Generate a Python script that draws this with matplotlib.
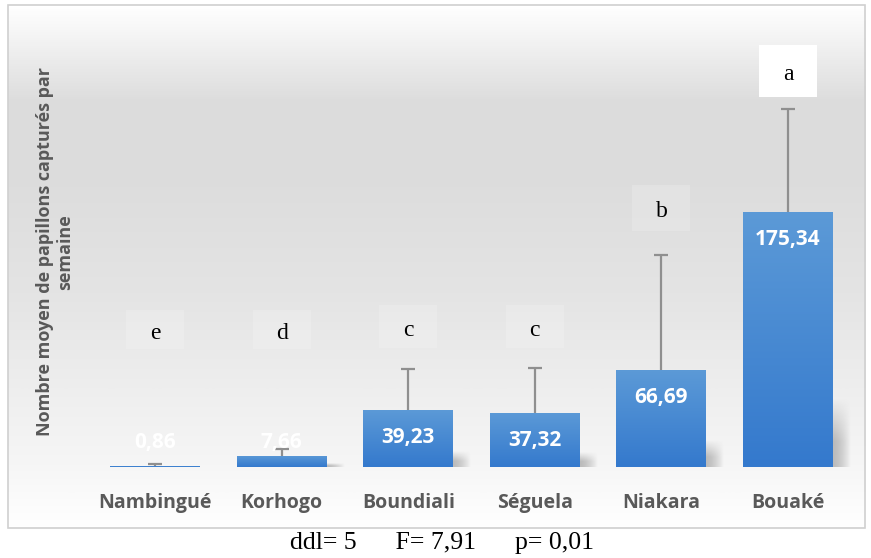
import numpy as np
import matplotlib
matplotlib.use("Agg")
import matplotlib.pyplot as plt
from matplotlib.patches import Rectangle
from matplotlib.colors import LinearSegmentedColormap

# Mean weekly moth captures per locality, with standard deviation and group letters
localities = ["Nambingué", "Korhogo", "Boundiali", "Séguela", "Niakara", "Bouaké"]
means = [0.86, 7.66, 39.23, 37.32, 66.69, 175.34]
errors = [1.0, 4.7, 28.2, 30.7, 79.0, 70.7]
groups = ["e", "d", "c", "c", "b", "a"]
value_labels = ["0,86", "7,66", "39,23", "37,32", "66,69", "175,34"]
stats_text = "ddl= 5      F= 7,91      p= 0,01"
ylabel = "Nombre moyen de papillons capturés par\nsemaine"

# layout: letter box centres (data units) and sizes
letter_y = [94.5, 94.5, 96.5, 96.5, 178, 272]
letter_box_h = [27, 27, 29, 29, 31, 36]

W, H = 871, 558
fig = plt.figure(figsize=(W / 100, H / 100), dpi=100)
fig.patch.set_facecolor("white")

# plot frame in pixels
left, right, top, bottom = 8, 865, 5, 528
ax = fig.add_axes([left / W, 1 - bottom / H, (right - left) / W, (bottom - top) / H])
px_per_cat = 126.6
px_per_unit = 1.455
x0_px = 155
base_px = 467
xlim = ((left - x0_px) / px_per_cat, (right - x0_px) / px_per_cat)
ylim = ((base_px - bottom) / px_per_unit, (base_px - top) / px_per_unit)
ax.set_xlim(*xlim)
ax.set_ylim(*ylim)
ax.axis("off")

# vertical background gradient (white at top, grey in the middle, light at bottom)
stops = [(0.0, "#ffffff"), (0.12, "#f6f6f6"), (0.45, "#e4e4e4"),
         (0.68, "#dcdcdc"), (0.82, "#dddddd"), (0.9, "#ececec"),
         (0.96, "#f8f8f8"), (1.0, "#ffffff")]
bg_cmap = LinearSegmentedColormap.from_list("bg", stops)
grad = np.linspace(0, 1, 512).reshape(-1, 1)
ax.imshow(grad, cmap=bg_cmap, aspect="auto", extent=(*xlim, ylim[1], ylim[0]),
          origin="upper", zorder=0, vmin=0, vmax=1)

# frame
fig.patches.append(Rectangle((left / W, 1 - bottom / H), (right - left) / W,
                             (bottom - top) / H, transform=fig.transFigure,
                             fill=False, edgecolor="#d0d0d0", lw=1.2))

x = np.arange(len(localities))
width = 90 / px_per_cat

# soft shadows at the right of the bars
for xi, v in zip(x, means):
    h = v * 0.27
    if h < 2:
        continue
    sx0 = xi + width / 2
    sx1 = sx0 + 18 / px_per_cat
    nx, ny = 40, 60
    gx = np.linspace(0, 1, nx)
    gy = np.linspace(0, 1, ny).reshape(-1, 1)
    a = (1 - gx ** 1.5) * np.clip(1.6 * (1 - gy), 0, 1) * 0.55
    img = np.zeros((ny, nx, 4))
    img[..., :3] = 0.55
    img[..., 3] = a
    ax.imshow(img, aspect="auto", extent=(sx0, sx1, 0, h), origin="lower",
              zorder=1, interpolation="bilinear")

bars = ax.bar(x, means, width=width, color="#4a8ad3", zorder=2)

# blue vertical gradient inside each bar
bar_cmap = LinearSegmentedColormap.from_list("bar", ["#3479cd", "#5c9ad7"])
for b in bars:
    bx, by = b.get_x(), b.get_y()
    bw, bh = b.get_width(), b.get_height()
    im = ax.imshow(np.linspace(0, 1, 256).reshape(-1, 1), cmap=bar_cmap,
                   aspect="auto", extent=(bx, bx + bw, by, by + bh),
                   origin="lower", zorder=3)
    im.set_clip_path(b)

# upper error bars only
eb = ax.errorbar(x, means, yerr=[np.zeros(len(errors)), errors], fmt="none",
                 ecolor="#8f8f8f", elinewidth=1.6, capsize=5, capthick=1.6,
                 zorder=4)
eb[1][0].set_visible(False)

# value labels inside the bars
for xi, v, lab in zip(x, means, value_labels):
    ly = max(v - 19, 16.5)
    ax.text(xi, ly, lab, ha="center", va="center", color="white",
            fontsize=15, fontweight="bold", family="Open Sans", zorder=5)

# significance letters on light boxes
box_w = 58 / px_per_cat
for xi, g, ly, bh in zip(x, groups, letter_y, letter_box_h):
    ax.add_patch(Rectangle((xi - box_w / 2, ly - bh / 2), box_w, bh,
                           facecolor="white", alpha=0.18 if g != "a" else 1.0,
                           edgecolor="none", zorder=5))
    ax.text(xi, ly - 2.5, g, ha="center", va="center", fontsize=17,
            family="Liberation Serif", color="black", zorder=6)

# category labels
for xi, name in zip(x, localities):
    ax.text(xi, (base_px - 503) / px_per_unit, name, ha="center", va="center",
            fontsize=14, fontweight="bold", family="Open Sans",
            color="#595959", zorder=5)

# axis title
fig.text(55 / W, 1 - 252 / H, ylabel, rotation=90, ha="center", va="center",
         multialignment="center", fontsize=13, fontweight="bold",
         family="Open Sans", color="#595959", linespacing=1.2)

# ANOVA summary under the frame
fig.text(442 / W, 1 - 543 / H, stats_text, ha="center", va="center",
         fontsize=18.5, family="Liberation Serif", color="black")

fig.savefig("out.png", dpi=100)
